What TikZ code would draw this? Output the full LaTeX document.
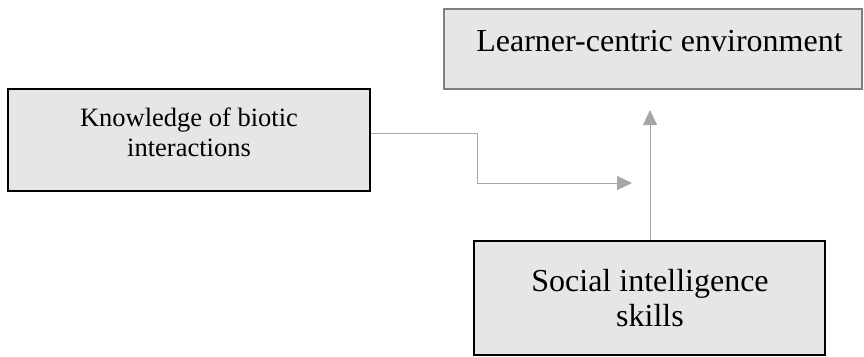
\documentclass[tikz,border=0pt]{standalone}
\usepackage{fontspec}
\setmainfont{Liberation Serif}
\usetikzlibrary{arrows.meta}
\definecolor{boxfill}{HTML}{E7E6E6}
\definecolor{boxgray}{HTML}{7F7F7F}
\definecolor{conngray}{HTML}{A6A6A6}
\tikzset{
  box/.style={rectangle, fill=boxfill, line width=2pt, inner sep=0pt},
  conn/.style={draw=conngray, line width=1pt, -{Triangle[length=15pt,width=14pt,fill=conngray]}},
  lbl/.style={anchor=base, align=center, inner sep=0pt, text=black}
}
\begin{document}
\begin{tikzpicture}[x=1pt,y=-1pt]
\useasboundingbox (0,0) rectangle (864,356);
% boxes
\node[box, draw=boxgray, minimum width=418pt, minimum height=80pt] (lce) at (653,49) {};
\node[box, draw=black, minimum width=362pt, minimum height=102pt] (kbi) at (189,140) {};
\node[box, draw=black, minimum width=351pt, minimum height=114pt] (sis) at (649.5,298) {};
% texts (base anchor = baseline of last line)
\node[lbl, font=\fontsize{32}{36}\selectfont] (lcet) at (659.5,51.7) {Learner-centric environment};
\node[lbl, font=\fontsize{26.5}{30}\selectfont] (kbit) at (189,156.7) {Knowledge of biotic\\interactions};
\node[lbl, font=\fontsize{32}{35}\selectfont] (sist) at (650,326.7) {Social intelligence\\skills};
% connectors
\coordinate (e1) at (477,133);
\coordinate (tip1) at (632,183);
\coordinate (tip2) at (650,110);
\draw[conn] (kbi.east |- e1) -- (e1) |- (tip1);
\draw[conn] (sis.north -| tip2) -- (tip2);
\end{tikzpicture}
\end{document}
